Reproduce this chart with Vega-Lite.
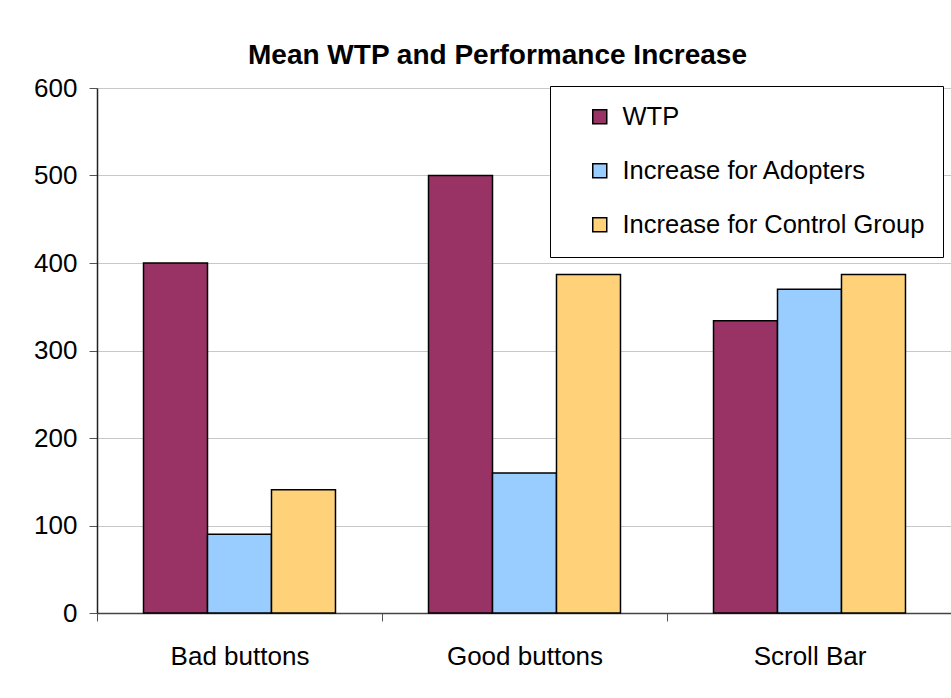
{
  "$schema": "https://vega.github.io/schema/vega-lite/v6.json",
  "autosize": "none",
  "width": 855,
  "height": 525,
  "padding": {"left": 97, "top": 88, "right": 0, "bottom": 85},
  "background": "white",
  "title": {
    "text": "Mean WTP  and Performance Increase",
    "font": "Liberation Sans",
    "fontSize": 28,
    "fontWeight": "bold",
    "color": "black",
    "anchor": "middle",
    "dx": -27,
    "offset": 5
  },
  "data": {
    "values": [
      {"category": "Bad buttons", "series": "WTP", "value": 400},
      {"category": "Bad buttons", "series": "Increase for Adopters", "value": 90},
      {"category": "Bad buttons", "series": "Increase for Control Group", "value": 141},
      {"category": "Good buttons", "series": "WTP", "value": 500},
      {"category": "Good buttons", "series": "Increase for Adopters", "value": 160},
      {"category": "Good buttons", "series": "Increase for Control Group", "value": 387},
      {"category": "Scroll Bar", "series": "WTP", "value": 334},
      {"category": "Scroll Bar", "series": "Increase for Adopters", "value": 370},
      {"category": "Scroll Bar", "series": "Increase for Control Group", "value": 387}
    ]
  },
  "mark": {"type": "bar", "stroke": "black", "strokeWidth": 1.5},
  "encoding": {
    "x": {
      "field": "category",
      "type": "nominal",
      "sort": ["Bad buttons", "Good buttons", "Scroll Bar"],
      "scale": {"paddingInner": 0, "paddingOuter": 0},
      "axis": {
        "title": null,
        "labelAngle": 0,
        "labelFont": "Liberation Sans",
        "labelFontSize": 26,
        "labelColor": "black",
        "labelPadding": 22,
        "tickBand": "extent",
        "tickSize": 8,
        "tickColor": "#555555",
        "domainColor": "#444444",
        "domainWidth": 1.5
      }
    },
    "xOffset": {
      "field": "series",
      "type": "nominal",
      "sort": ["WTP", "Increase for Adopters", "Increase for Control Group"],
      "scale": {"paddingInner": 0, "paddingOuter": 0.727}
    },
    "y": {
      "field": "value",
      "type": "quantitative",
      "scale": {"domain": [0, 600]},
      "axis": {
        "title": null,
        "values": [0, 100, 200, 300, 400, 500, 600],
        "labelFont": "Liberation Sans",
        "labelFontSize": 26,
        "labelColor": "black",
        "labelPadding": 12,
        "tickSize": 8,
        "tickColor": "#555555",
        "domainColor": "#222222",
        "domainWidth": 1.5,
        "gridColor": "#C8C8C8",
        "gridWidth": 1
      }
    },
    "color": {
      "field": "series",
      "type": "nominal",
      "sort": ["WTP", "Increase for Adopters", "Increase for Control Group"],
      "scale": {
        "domain": ["WTP", "Increase for Adopters", "Increase for Control Group"],
        "range": ["#993366", "#99CCFF", "#FFD27A"]
      },
      "legend": {
        "title": null,
        "orient": "none",
        "legendX": 453,
        "legendY": -2,
        "symbolType": "square",
        "symbolSize": 196,
        "symbolStrokeColor": "black",
        "symbolStrokeWidth": 1.5,
        "symbolOpacity": 1,
        "symbolOffset": 19,
        "labelFont": "Liberation Sans",
        "labelFontSize": 25.5,
        "labelColor": "black",
        "labelOffset": 10,
        "labelLimit": 500,
        "rowPadding": 27,
        "padding": 18,
        "strokeColor": "black",
        "fillColor": "white"
      }
    }
  },
  "config": {
    "view": {"stroke": null},
    "axis": {"gridColor": "#C8C8C8"}
  }
}
